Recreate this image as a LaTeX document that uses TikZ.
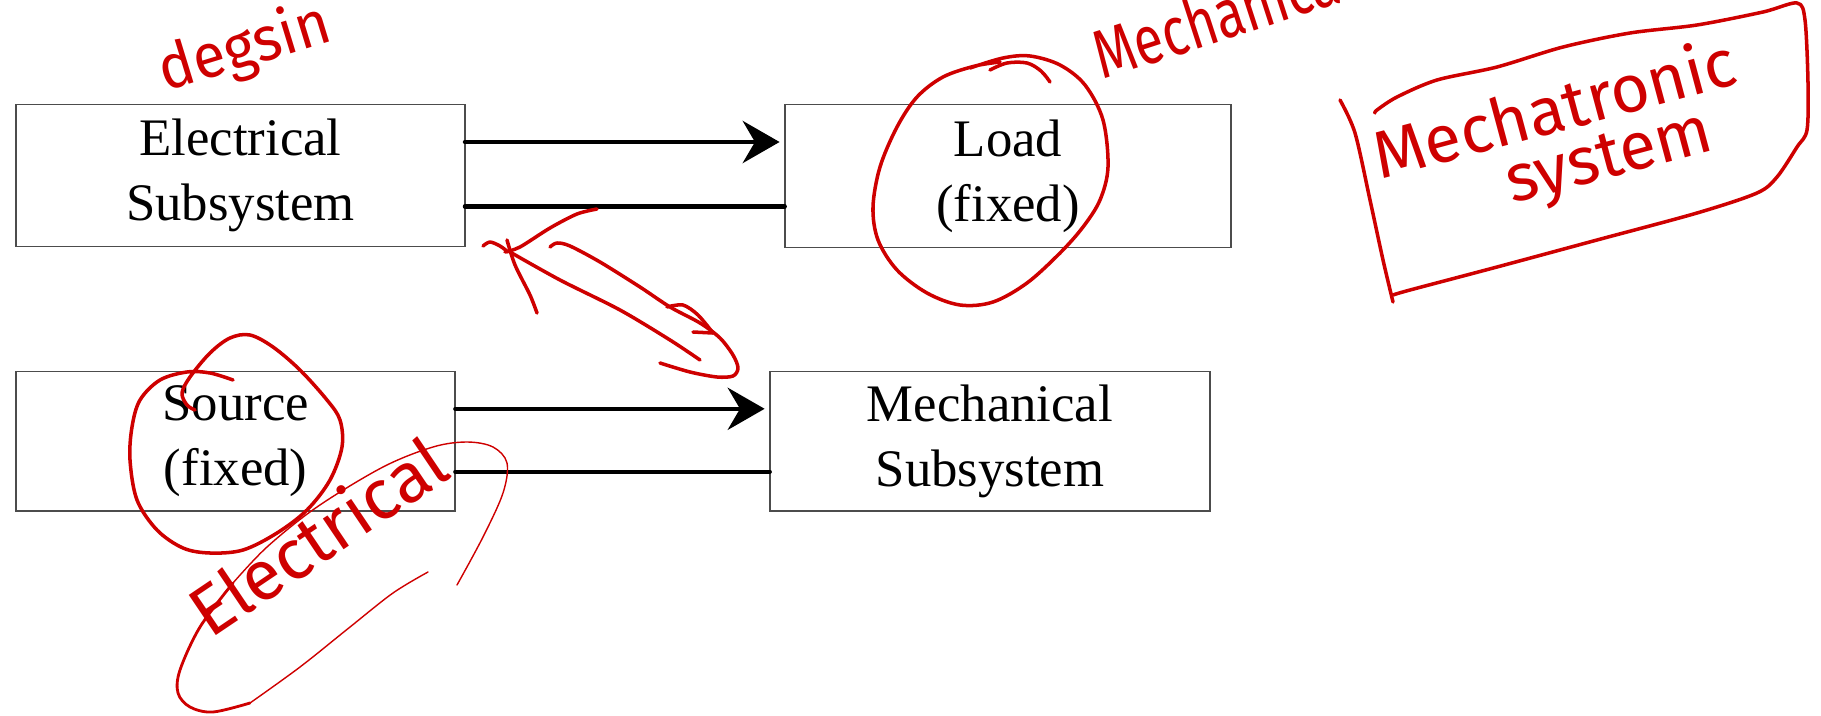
\documentclass[tikz,border=0pt]{standalone}
\usepackage{fontspec}
\setmainfont{Liberation Serif}
\newfontfamily\handfont{Fira Sans}
\usetikzlibrary{arrows.meta}
\definecolor{hand}{RGB}{206,0,0}
\begin{document}
\begin{tikzpicture}[x=0.01cm,y=-0.01cm,
  blk/.style={draw=black!70, line width=0.45pt, inner sep=0pt, outer sep=0pt, align=center, font=\fontsize{15}{18.5}\selectfont},
  conn/.style={line width=1.15pt, line cap=round},
  arr/.style={conn, -{Stealth[length=10.5pt,width=12pt,inset=3.5pt]}, shorten >=1.5pt},
  ink/.style={draw=hand, line width=1pt, line cap=round, line join=round},
  thinink/.style={draw=hand, line width=0.4pt, line cap=round, line join=round},
  handtext/.style={text=hand, inner sep=0pt, anchor=base west}]
\useasboundingbox (0,0) rectangle (1821,715);
\begin{scope}
\clip (0,0) rectangle (1821,715);

% blocks
\node[blk, minimum width=4.483cm, minimum height=1.417cm] (elec) at (240.5,175.4) {Electrical\\Subsystem};
\node[blk, minimum width=4.46cm, minimum height=1.43cm] (load) at (1008,176) {Load\\(fixed)};
\node[blk, minimum width=4.387cm, minimum height=1.394cm] (src) at (235.7,441.3) {Source\\(fixed)};
\node[blk, minimum width=4.40cm, minimum height=1.394cm] (mech) at (990,441.3) {Mechanical\\Subsystem};

% connectors
\draw[arr] (elec.east |- 0,142) -- (load.west |- 0,142);
\draw[conn] (elec.east |- 0,206.5) -- (load.west |- 0,206.5);
\draw[arr] (src.east |- 0,408.8) -- (mech.west |- 0,408.8);
\draw[conn] (src.east |- 0,471.6) -- (mech.west |- 0,471.6);

% handwritten annotations
\node[handtext, rotate=17, xscale=1.05, yscale=1.1, font=\handfont\fontsize{16}{16}\selectfont] (tdeg) at (165,92) {degsin};
\node[handtext, rotate=18, yscale=1.3, font=\handfont\fontsize{15}{15}\selectfont] (tmech) at (1102,80) {Mechanical};
\node[handtext, rotate=15, font=\handfont\fontsize{19}{19}\selectfont] (tmt) at (1380,180) {Mechatronic};
\node[handtext, rotate=15, font=\handfont\fontsize{19}{19}\selectfont] (tsys) at (1512,204) {system};
\node[handtext, rotate=34, font=\handfont\fontsize{20}{20}\selectfont] (tel) at (210,640) {Electrical};

% Mechatronic system frame
\draw[ink] plot[smooth, tension=0.5] coordinates {(1375,113) (1377,110) (1397,97) (1437,80) (1497,67) (1563,47) (1630,33) (1697,25) (1763,12) (1797,3) (1805,20) (1808,83) (1807,130) (1797,147) (1777,177) (1757,193) (1697,213) (1597,240) (1497,267) (1410,290) (1393,295)};
\draw[ink] plot[smooth, tension=0.5] coordinates {(1340,100) (1355,133) (1370,200) (1383,260) (1393,302)};

% circle around Load
\draw[ink] plot[smooth, tension=0.55] coordinates {(970,68) (1003,58) (1030,56) (1060,65) (1085,85) (1103,120) (1108,167) (1100,200) (1083,227) (1060,253) (1027,283) (993,302) (960,305) (927,293) (897,270) (878,240) (873,207) (880,167) (897,127) (917,97) (943,77) (975,66) (1000,62)};
\draw[ink] plot[smooth, tension=0.55] coordinates {(990,70) (1007,63) (1027,63) (1041,71) (1050,82)};

% circle around Source
\draw[ink] plot[smooth, tension=0.55] coordinates {(233,380) (210,373) (187,372) (160,380) (140,400) (132,427) (130,460) (137,500) (157,530) (183,548) (210,553) (243,550) (277,533) (307,510) (330,480) (342,447) (340,420) (327,400) (300,370) (273,347) (250,335) (230,338) (210,353) (190,377) (182,393) (187,405) (195,410)};

% lasso around "Electrical"
\draw[thinink] plot[smooth, tension=0.55] coordinates {(457,585) (483,537) (503,493) (507,463) (493,447) (467,442) (433,447) (383,467) (317,507) (267,547) (233,583)};
\draw[ink, line width=0.8pt] plot[smooth, tension=0.55] coordinates {(233,583) (200,627) (180,670) (178,693) (190,707) (213,712) (250,703)};
\draw[thinink] plot[smooth, tension=0.55] coordinates {(250,703) (300,667) (350,627) (393,593) (428,572)};

% squiggle arrow between the boxes
\draw[ink] plot[smooth, tension=0.5] coordinates {(597,209) (577,214) (550,228) (520,247) (505,252)};
\draw[ink] plot[smooth, tension=0.5] coordinates {(483,246) (490,242) (500,246) (508,252)};
\draw[ink] plot[smooth, tension=0.5] coordinates {(507,240) (515,265) (530,295) (537,313)};
\draw[ink] plot[smooth, tension=0.5] coordinates {(510,252) (560,280) (620,310) (670,340) (700,360)};
\draw[ink] plot[smooth, tension=0.5] coordinates {(550,247) (557,243) (570,246) (600,262) (640,287) (670,307) (700,323) (720,338) (733,355) (738,368) (733,376) (717,377) (690,372) (660,363)};
\draw[ink] plot[smooth, tension=0.5] coordinates {(667,307) (683,305) (698,315) (713,333)};
\draw[ink] (693,332) -- (713,333);
\end{scope}
\end{tikzpicture}
\end{document}
